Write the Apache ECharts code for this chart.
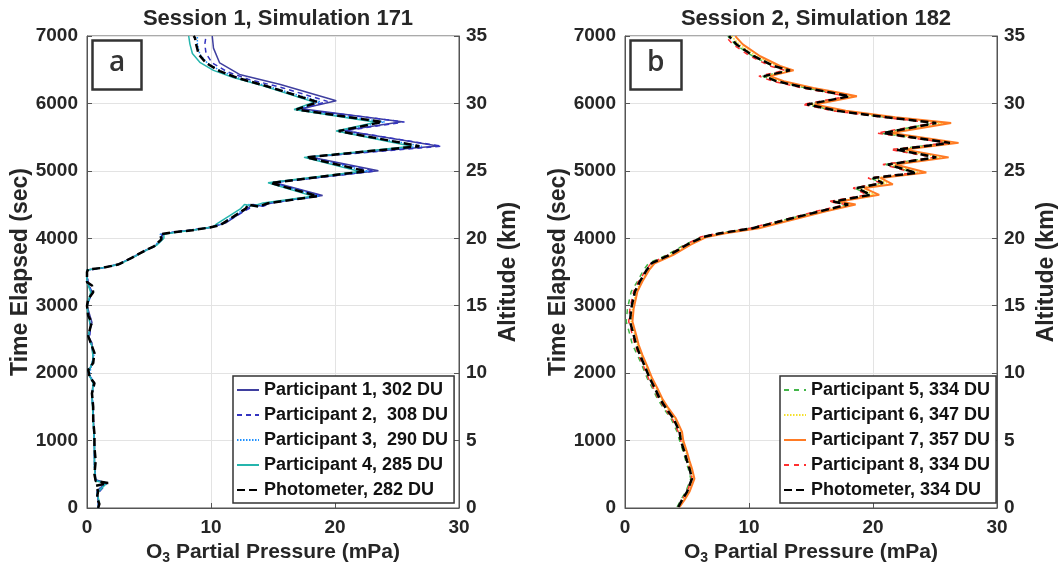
<!DOCTYPE html>
<html>
<head>
<meta charset="utf-8">
<title>Ozone profiles</title>
<script src="https://cdn.jsdelivr.net/npm/echarts@6/dist/echarts.min.js"></script>
<style>
  html, body { margin: 0; padding: 0; background: #fff; }
  #chart { width: 1061px; height: 573px; }
</style>
</head>
<body>
<div id="chart"></div>
<script>
// [O3 partial pressure (mPa), time elapsed (sec)]
const sessions = ['Session 1, Simulation 171', 'Session 2, Simulation 182']
const panelTags = ['a', 'b']
const xTicks = [0, 10, 20, 30]
const timeTicks = [0, 1000, 2000, 3000, 4000, 5000, 6000, 7000]
const altitudeTicks = [0, 5, 10, 15, 20, 25, 30, 35]

const namesA = ['Participant 1, 302 DU', 'Participant 2,  308 DU', 'Participant 3,  290 DU', 'Participant 4, 285 DU', 'Photometer, 282 DU']
const namesB = ['Participant 5, 334 DU', 'Participant 6, 347 DU', 'Participant 7, 357 DU', 'Participant 8, 334 DU', 'Photometer, 334 DU']

const p1a = [[0.9,0],[0.9,100],[0.8,250],[1.5,370],[0.7,420],[0.6,700],[0.6,1000],[0.5,1400],[0.4,1700],[0.5,1850],[0.1,2000],[0.5,2200],[0.4,2450],[0.1,2550],[0.4,2750],[0.0,3000],[0.4,3200],[0.0,3350],[0.0,3530],[1.3,3565],[2.6,3620],[3.7,3720],[4.7,3820],[5.5,3890],[6.1,3990],[6.0,4060],[7.0,4090],[8.7,4125],[10.1,4165],[11.2,4230],[13.0,4450],[13.3,4500],[14.1,4480],[14.9,4530],[19.0,4635],[15.0,4830],[23.5,5000],[17.9,5210],[28.3,5370],[20.7,5600],[25.4,5730],[17.3,5920],[20.1,6040],[15.6,6280],[12.3,6430],[10.7,6600],[10.2,6820],[10.1,7000]]
const p2a = [[0.9,0],[1.0,80],[0.8,200],[1.6,365],[0.7,410],[0.6,650],[0.6,1000],[0.5,1350],[0.4,1700],[0.6,1850],[0.1,2000],[0.5,2180],[0.5,2300],[0.2,2500],[0.3,2700],[0.1,2850],[0.0,3000],[0.4,3200],[0.1,3340],[0.0,3520],[1.2,3560],[2.6,3615],[3.7,3715],[4.7,3815],[5.5,3885],[6.1,3990],[6.1,4065],[7.0,4090],[8.6,4125],[10.0,4165],[11.1,4230],[13.1,4445],[13.4,4500],[14.2,4475],[14.9,4525],[18.9,4630],[15.0,4825],[23.2,4995],[18.0,5205],[28.6,5365],[20.8,5595],[25.6,5725],[17.2,5915],[19.4,6030],[15.8,6230],[13.0,6360],[11.3,6470],[10.1,6600],[9.6,6740],[9.5,6880],[9.6,7000]]
const p3a = [[0.9,0],[0.9,120],[0.8,260],[1.6,370],[0.7,410],[0.6,600],[0.6,900],[0.5,1250],[0.5,1500],[0.4,1700],[0.6,1850],[0.2,1980],[0.4,2150],[0.6,2300],[0.3,2450],[0.1,2550],[0.3,2700],[0.1,2850],[0.0,3000],[0.4,3200],[0.0,3350],[0.0,3530],[1.2,3560],[2.5,3610],[3.6,3710],[4.6,3810],[5.4,3880],[6.0,3985],[5.9,4060],[6.8,4085],[8.4,4120],[9.8,4160],[10.6,4195],[11.0,4230],[12.8,4445],[13.0,4500],[13.8,4475],[14.5,4520],[18.7,4625],[14.8,4822],[22.7,4995],[17.7,5200],[27.0,5365],[20.3,5590],[24.0,5725],[16.9,5910],[18.8,6025],[14.6,6255],[12.2,6380],[10.8,6480],[9.7,6600],[9.1,6730],[8.9,6880],[8.9,7000]]
const p4a = [[0.9,0],[1.0,90],[0.8,220],[1.6,370],[0.7,400],[0.6,600],[0.6,950],[0.5,1300],[0.4,1650],[0.5,1850],[0.1,2000],[0.5,2200],[0.4,2400],[0.1,2550],[0.3,2700],[0.1,2850],[0.0,3000],[0.3,3200],[0.0,3350],[0.0,3530],[1.3,3565],[2.7,3620],[3.8,3725],[4.8,3825],[5.6,3895],[6.2,4000],[6.2,4060],[7.2,4090],[8.9,4130],[10.2,4170],[10.4,4205],[12.4,4440],[12.7,4500],[13.4,4480],[14.2,4525],[18.2,4625],[14.6,4825],[22.0,4990],[17.5,5200],[26.2,5365],[20.1,5590],[23.3,5720],[16.7,5910],[18.3,6020],[14.2,6260],[11.8,6385],[10.2,6490],[9.1,6610],[8.5,6740],[8.3,6880],[8.2,7000]]
const photA = [[0.9,0],[1.0,60],[0.8,150],[0.9,250],[0.7,330],[1.7,370],[0.7,400],[0.6,500],[0.7,700],[0.6,900],[0.6,1100],[0.5,1300],[0.5,1500],[0.4,1700],[0.6,1850],[0.2,1950],[0.1,2050],[0.5,2150],[0.6,2300],[0.3,2450],[0.1,2550],[0.3,2700],[0.4,2750],[0.1,2850],[0.0,3000],[0.1,3100],[0.5,3200],[0.4,3300],[0.0,3350],[0.0,3500],[0.1,3540],[1.2,3560],[2.5,3610],[3.6,3710],[4.6,3810],[5.4,3880],[6.0,3985],[5.9,4060],[6.8,4085],[8.5,4120],[9.9,4160],[10.7,4195],[11.0,4225],[12.8,4440],[13.0,4500],[13.8,4470],[14.6,4520],[18.6,4625],[14.8,4820],[22.5,4995],[17.7,5200],[26.8,5365],[20.3,5590],[23.8,5725],[16.9,5910],[18.6,6020],[14.5,6255],[12.1,6380],[10.7,6480],[9.6,6600],[9.0,6730],[8.8,6880],[8.7,6975],[8.6,7000]]

const p5b = [[4.2,15],[4.5,120],[4.9,240],[5.3,435],[5.1,585],[4.9,700],[4.7,830],[4.4,1000],[4.2,1130],[3.7,1330],[3.1,1480],[2.6,1625],[2.2,1780],[1.8,1920],[1.4,2100],[1.0,2270],[0.6,2420],[0.4,2565],[0.1,2765],[0.2,2960],[0.5,3210],[1.0,3360],[1.5,3530],[1.9,3630],[3.4,3755],[4.8,3905],[6.2,4020],[7.6,4075],[10.2,4150],[12.9,4275],[15.6,4400],[17.9,4500],[16.6,4545],[19.7,4645],[18.5,4745],[20.7,4820],[19.8,4895],[23.4,4970],[21.0,5095],[25.0,5200],[21.7,5315],[26.0,5415],[20.6,5560],[25.0,5710],[21.0,5795],[17.0,5890],[14.6,5985],[18.1,6105],[16.8,6155],[14.6,6230],[12.2,6330],[11.1,6405],[13.2,6490],[11.9,6555],[10.3,6700],[8.9,6875],[8.4,6975],[8.3,7000]]
const p6b = [[4.4,15],[4.7,120],[5.1,240],[5.5,435],[5.3,585],[5.1,700],[4.9,830],[4.6,1000],[4.5,1130],[4.0,1330],[3.4,1480],[2.9,1625],[2.5,1780],[2.1,1920],[1.7,2100],[1.3,2270],[1.0,2420],[0.8,2565],[0.5,2765],[0.6,2960],[0.9,3210],[1.3,3360],[1.85,3530],[2.3,3630],[3.7,3755],[5.1,3905],[6.4,4020],[7.9,4075],[10.5,4150],[13.2,4275],[15.9,4400],[18.3,4500],[17.0,4545],[20.1,4645],[18.9,4745],[21.1,4820],[20.2,4895],[23.8,4970],[21.4,5095],[25.5,5200],[22.1,5315],[26.5,5415],[21.0,5560],[25.6,5710],[21.4,5795],[17.4,5890],[14.9,5985],[18.4,6105],[17.1,6155],[14.9,6230],[12.5,6330],[11.4,6405],[13.4,6490],[12.2,6555],[10.6,6700],[9.2,6875],[8.7,6975],[8.6,7000]]
const p7b = [[4.4,15],[4.8,120],[5.2,240],[5.6,435],[5.4,585],[5.2,700],[5.0,830],[4.7,1000],[4.6,1130],[4.1,1330],[3.5,1480],[3.0,1625],[2.6,1780],[2.2,1920],[1.8,2100],[1.4,2270],[1.1,2420],[0.9,2565],[0.6,2765],[0.7,2960],[1.0,3210],[1.4,3360],[1.95,3530],[2.4,3630],[3.9,3755],[5.3,3905],[6.6,4020],[8.1,4075],[10.8,4150],[13.5,4275],[16.2,4400],[18.6,4500],[17.3,4545],[20.5,4645],[19.3,4745],[21.6,4800],[20.6,4895],[24.3,4975],[21.8,5095],[26.1,5200],[22.6,5315],[26.9,5415],[21.5,5560],[26.3,5710],[21.8,5795],[17.8,5890],[15.3,5985],[18.7,6105],[17.4,6155],[15.2,6230],[12.8,6330],[11.7,6405],[13.6,6490],[12.5,6555],[10.9,6700],[9.5,6875],[9.0,6975],[8.9,7000]]
const p8b = [[4.3,15],[4.6,120],[5.0,240],[5.4,435],[5.2,585],[5.0,700],[4.8,830],[4.5,1000],[4.3,1130],[3.8,1330],[3.2,1480],[2.7,1625],[2.3,1780],[1.9,1920],[1.5,2100],[1.1,2270],[0.8,2420],[0.6,2565],[0.3,2765],[0.4,2960],[0.7,3210],[1.1,3360],[1.7,3530],[2.1,3630],[3.5,3755],[4.9,3905],[6.1,4020],[7.5,4075],[10.1,4150],[12.8,4275],[15.4,4400],[17.8,4500],[16.4,4545],[19.5,4645],[18.4,4745],[20.6,4820],[19.6,4895],[23.3,4970],[20.8,5095],[24.9,5200],[21.4,5315],[26.0,5415],[20.3,5560],[24.9,5710],[20.8,5795],[16.8,5890],[14.3,5985],[17.9,6105],[16.5,6155],[14.3,6230],[11.9,6330],[10.8,6405],[12.9,6490],[11.7,6555],[10.1,6700],[8.7,6875],[8.2,6975],[8.1,7000]]
const photB = [[4.3,15],[4.6,120],[5.0,240],[5.4,435],[5.2,585],[5.0,700],[4.8,830],[4.5,1000],[4.4,1130],[3.9,1330],[3.3,1480],[2.8,1625],[2.4,1780],[2.0,1920],[1.6,2100],[1.2,2270],[0.9,2420],[0.7,2565],[0.4,2765],[0.5,2960],[0.8,3210],[1.2,3360],[1.75,3530],[2.15,3630],[3.6,3755],[5.0,3905],[6.3,4020],[7.7,4075],[10.3,4150],[13.0,4275],[15.7,4400],[18.0,4500],[16.8,4545],[19.8,4645],[18.7,4745],[20.8,4820],[20.0,4895],[23.5,4970],[21.2,5095],[25.1,5200],[21.9,5315],[26.2,5415],[20.8,5560],[25.1,5710],[21.1,5795],[17.1,5890],[14.7,5985],[18.1,6105],[16.8,6155],[14.6,6230],[12.2,6330],[11.2,6405],[13.3,6490],[12.0,6555],[10.4,6700],[9.0,6875],[8.5,6975],[8.4,7000]]

;(function () {
  const FONT = 'Liberation Sans, Arial, sans-serif'
  const INK = '#262626'
  const GRID_LEFT = [87, 625]
  const GRID_TOP = 36
  const GRID_W = 372
  const GRID_H = 472

  const styleA = [
    { color: '#3f3f9f', type: 'solid', width: 1.5 },
    { color: '#3434c0', type: [5, 4], width: 1.5 },
    { color: '#1e90ff', type: [1.5, 1.5], width: 1.5 },
    { color: '#25b5ad', type: 'solid', width: 1.5 },
    { color: '#000000', type: [8, 4], width: 2.5 }
  ]
  const styleB = [
    { color: '#43b649', type: [5, 5], width: 1.5 },
    { color: '#f5e02a', type: [1.5, 1.5], width: 1.5 },
    { color: '#ff7b24', type: 'solid', width: 2 },
    { color: '#ff3030', type: [5, 5], width: 1.5 },
    { color: '#000000', type: [8, 4], width: 2.5 }
  ]

  function plain(value) {
    return String(value)
  }

  function makeSeries(names, datasets, styles, panel) {
    return names.map((name, i) => ({
      name,
      type: 'line',
      xAxisIndex: panel,
      yAxisIndex: panel * 2,
      data: datasets[i],
      showSymbol: false,
      symbol: 'none',
      color: styles[i].color,
      lineStyle: styles[i]
    }))
  }

  function xAxisFor(panel) {
    return {
      type: 'value',
      gridIndex: panel,
      min: xTicks[0],
      max: xTicks[xTicks.length - 1],
      interval: xTicks[1] - xTicks[0],
      name: 'O{sub|3} Partial Pressure (mPa)',
      nameLocation: 'middle',
      nameGap: 16,
      nameTextStyle: {
        fontFamily: FONT, fontSize: 21, fontWeight: 'bold', color: INK,
        rich: { sub: { fontFamily: FONT, fontSize: 14, fontWeight: 'bold', color: INK, verticalAlign: 'bottom', padding: [12, 0, 0, 0] } }
      },
      axisLine: { show: true, lineStyle: { color: '#555' } },
      axisTick: { inside: true, length: 5, lineStyle: { color: '#555' } },
      axisLabel: { margin: 10, fontFamily: FONT, fontSize: 19, fontWeight: 'bold', color: INK, formatter: plain },
      splitLine: { show: true, lineStyle: { color: '#e3e3e3' } }
    }
  }

  function yAxesFor(panel) {
    return [
      {
        type: 'value',
        gridIndex: panel,
        position: 'left',
        min: timeTicks[0],
        max: timeTicks[timeTicks.length - 1],
        interval: timeTicks[1] - timeTicks[0],
        name: 'Time Elapsed (sec)',
        nameLocation: 'middle',
        nameGap: 54,
        nameTextStyle: { fontFamily: FONT, fontSize: 23, fontWeight: 'bold', color: INK },
        axisLine: { show: true, lineStyle: { color: '#555' } },
        axisTick: { inside: true, length: 5, lineStyle: { color: '#555' } },
        axisLabel: { margin: 9, fontFamily: FONT, fontSize: 19, fontWeight: 'bold', color: INK, formatter: plain },
        splitLine: { show: true, lineStyle: { color: '#e3e3e3' } }
      },
      {
        type: 'value',
        gridIndex: panel,
        position: 'right',
        min: altitudeTicks[0],
        max: altitudeTicks[altitudeTicks.length - 1],
        interval: altitudeTicks[1] - altitudeTicks[0],
        name: 'Altitude (km)',
        nameLocation: 'middle',
        nameGap: 38,
        nameRotate: 90,
        nameTextStyle: { fontFamily: FONT, fontSize: 23, fontWeight: 'bold', color: INK },
        axisLine: { show: true, lineStyle: { color: '#555' } },
        axisTick: { inside: true, length: 5, lineStyle: { color: '#555' } },
        axisLabel: { margin: 7, fontFamily: FONT, fontSize: 19, fontWeight: 'bold', color: INK, formatter: plain },
        splitLine: { show: false }
      }
    ]
  }

  function legendFor(panel, names) {
    return {
      orient: 'vertical',
      left: GRID_LEFT[panel] + (panel === 0 ? 146 : 155),
      top: 376,
      data: names,
      backgroundColor: '#fff',
      borderColor: '#333',
      borderWidth: 1.5,
      padding: [4, 6, 3, 3],
      itemGap: 5,
      itemWidth: 22,
      itemHeight: 14,
      itemStyle: { opacity: 0 },
      textStyle: { fontFamily: FONT, fontSize: 18, fontWeight: 'bold', color: '#111', lineHeight: 20 }
    }
  }

  const chart = echarts.init(document.getElementById('chart'), null, { renderer: 'canvas' })

  const titles = []
  sessions.forEach((text, i) => {
    titles.push({
      text,
      left: GRID_LEFT[i] + GRID_W / 2,
      textAlign: 'center',
      top: 3,
      textStyle: { fontFamily: FONT, fontSize: 22, fontWeight: 'bold', color: INK }
    })
    titles.push({
      text: panelTags[i],
      left: GRID_LEFT[i] + 5,
      top: GRID_TOP + 4,
      padding: [9, 17, 13, 17],
      borderColor: '#333',
      borderWidth: 2.5,
      backgroundColor: '#fff',
      textStyle: { fontFamily: 'Open Sans, sans-serif', fontSize: 28, fontWeight: 600, color: '#333' }
    })
  })

  chart.setOption({
    animation: false,
    backgroundColor: '#fff',
    title: titles,
    grid: GRID_LEFT.map((left) => ({
      left, top: GRID_TOP, width: GRID_W, height: GRID_H,
      show: true, borderColor: '#555', borderWidth: 1, backgroundColor: 'transparent'
    })),
    xAxis: [xAxisFor(0), xAxisFor(1)],
    yAxis: [...yAxesFor(0), ...yAxesFor(1)],
    legend: [legendFor(0, namesA), legendFor(1, namesB)],
    series: [
      ...makeSeries(namesA, [p1a, p2a, p3a, p4a, photA], styleA, 0),
      ...makeSeries(namesB, [p5b, p6b, p7b, p8b, photB], styleB, 1)
    ]
  })

  window.addEventListener('resize', () => chart.resize())
})()
</script>
</body>
</html>
